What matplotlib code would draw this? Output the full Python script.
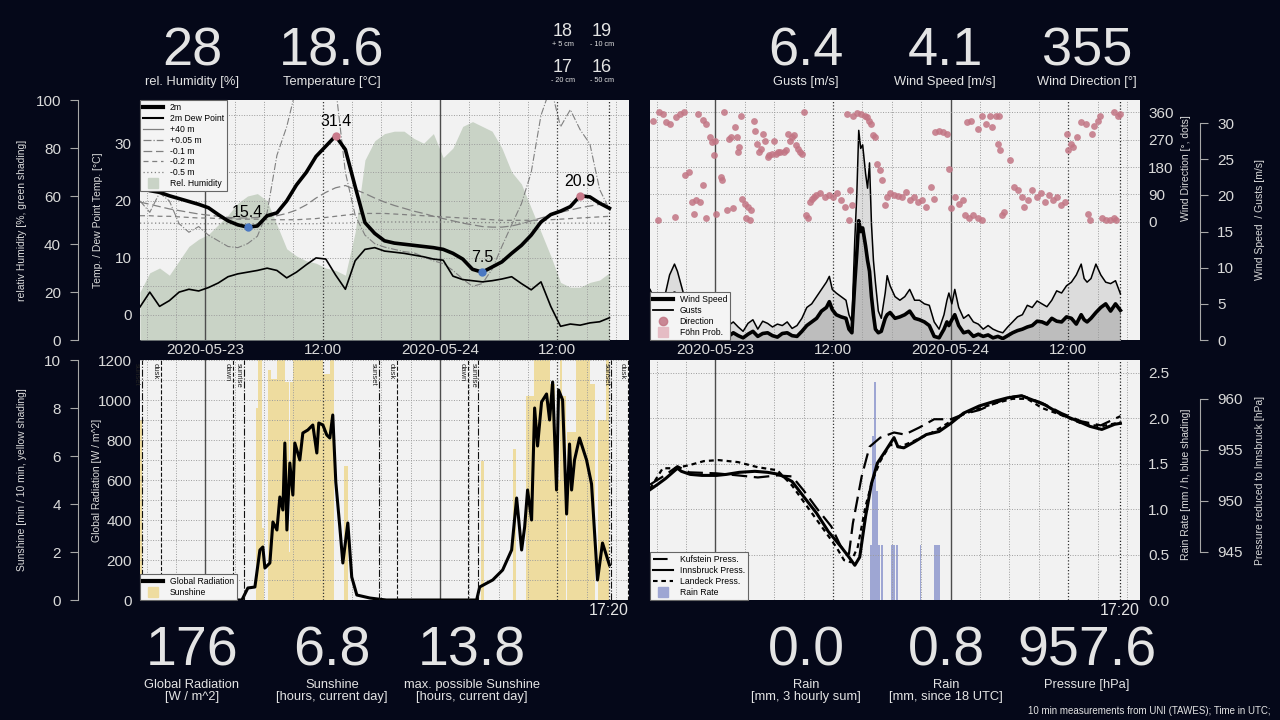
import numpy as np
import matplotlib
matplotlib.use("Agg")
from matplotlib import pyplot as plt
import matplotlib.dates as mdates
from matplotlib.lines import Line2D
from matplotlib.ticker import MultipleLocator

plt.rcParams['font.family'] = ['Liberation Sans', 'DejaVu Sans']

# ---------------- data: hours after 2020-05-22 17:20 UTC ----------------
hours = list(range(49))
temp_2m = [22.3, 21.8, 21.5, 20.9, 20.4, 19.9, 19.4, 18.8, 17.6, 16.5,
           15.8, 15.4, 15.6, 17.4, 17.9, 20.0, 22.8, 25.0, 27.8, 29.6,
           31.4, 29.0, 22.5, 16.2, 14.3, 13.0, 12.6, 12.4, 12.2, 12.0,
           11.8, 11.5, 10.8, 9.8, 8.0, 7.5, 8.4, 9.3, 10.8, 12.2,
           14.0, 16.3, 17.6, 18.2, 19.0, 20.9, 20.7, 19.6, 18.7]
dew_2m = [1.4, 4.0, 1.5, 2.5, 4.0, 4.5, 4.2, 4.8, 5.6, 6.7,
          7.2, 7.5, 7.8, 8.2, 7.8, 6.5, 7.5, 8.8, 10.0, 9.8,
          7.0, 4.5, 9.5, 11.5, 11.8, 11.2, 11.0, 10.8, 10.5, 10.2,
          9.8, 9.6, 6.8, 6.2, 6.0, 5.8, 6.0, 6.3, 6.7, 5.5,
          4.4, 5.8, 1.5, -2.0, -1.6, -1.8, -1.4, -1.2, -0.5]
rel_hum = [20, 28, 30, 27, 33, 39, 42, 44, 48, 52,
           57, 60, 61, 58, 48, 38, 35, 33, 32, 30,
           29, 27, 45, 75, 83, 86, 87, 87, 84, 82,
           86, 76, 80, 89, 91, 89, 87, 80, 70, 65,
           55, 45, 35, 24, 22, 22, 24, 25, 28]
t_p005 = [20.0, 18.0, 21.4, 20.0, 16.0, 14.5, 15.5, 14.0, 13.0, 12.0,
          11.8, 12.5, 13.8, 18.0, 28.0, 33.0, 40.0, 42.0, 42.0, 42.0,
          40.0, 25.0, 17.5, 14.0, 12.5, 11.9, 11.5, 11.1, 10.9, 10.2,
          9.5, 9.0, 7.8, 6.3, 5.0, 5.5, 8.0, 12.0, 15.8, 19.5,
          25.0, 35.0, 40.0, 33.0, 36.0, 32.5, 30.0, 22.0, 18.5]
t_m010 = [19.8, 19.4, 19.0, 18.6, 18.3, 18.0, 17.7, 17.5, 17.3, 17.1,
          17.0, 17.0, 17.1, 17.2, 17.4, 17.8, 18.4, 19.3, 20.5, 21.5,
          22.3, 22.7, 22.0, 21.3, 20.5, 19.8, 19.2, 18.7, 18.2, 17.8,
          17.3, 16.9, 16.5, 16.1, 15.8, 15.5, 15.4, 15.4, 15.6, 16.0,
          16.5, 17.0, 17.5, 18.0, 18.4, 18.8, 19.1, 19.4, 19.6]
t_m020 = [17.4, 17.4, 17.3, 17.3, 17.2, 17.1, 17.0, 17.0, 16.9, 16.9,
          16.8, 16.8, 16.8, 16.7, 16.7, 16.7, 16.7, 16.8, 16.9, 17.1,
          17.3, 17.5, 17.7, 17.8, 17.8, 17.8, 17.7, 17.6, 17.5, 17.4,
          17.3, 17.2, 17.1, 17.0, 16.9, 16.8, 16.7, 16.6, 16.6, 16.6,
          16.6, 16.6, 16.7, 16.8, 16.9, 17.0, 17.1, 17.2, 17.3]
t_m050 = [16.1, 16.1, 16.1, 16.1, 16.0, 16.0, 16.0, 16.0, 16.0, 16.0,
          16.0, 16.0, 16.0, 16.0, 16.0, 16.0, 16.0, 16.0, 16.0, 16.1,
          16.1, 16.1, 16.2, 16.2, 16.3, 16.3, 16.3, 16.3, 16.3, 16.3,
          16.3, 16.3, 16.3, 16.2, 16.2, 16.2, 16.2, 16.2, 16.2, 16.1,
          16.1, 16.1, 16.1, 16.1, 16.1, 16.1, 16.1, 16.1, 16.1]
ext_hours = [11, 20, 35, 45]
ext_vals = [15.4, 31.4, 7.5, 20.9]
ext_kind = ['min', 'max', 'min', 'max']

wind_hours = [0.0, 0.5, 1.0, 1.5, 2.0, 2.5, 2.8, 3.0, 3.5, 4.0,
              4.5, 5.0, 5.5, 6.0, 6.5, 7.0, 7.5, 8.0, 8.5, 9.0,
              9.5, 10.0, 10.5, 11.0, 11.5, 12.0, 12.5, 13.0, 13.5, 14.0,
              14.5, 15.0, 15.5, 16.0, 16.5, 17.0, 17.5, 18.0, 18.3, 18.6,
              19.0, 19.5, 20.0, 20.3, 20.6, 20.9, 21.1, 21.3, 21.5, 21.7,
              22.0, 22.2, 22.4, 22.6, 22.8, 23.0, 23.3, 23.6, 24.0, 24.2,
              24.5, 25.0, 25.5, 26.0, 26.5, 27.0, 27.5, 28.0, 28.5, 29.0,
              29.5, 30.0, 30.3, 30.5, 30.8, 31.1, 31.5, 32.0, 32.5, 33.0,
              33.5, 34.0, 34.5, 35.0, 35.5, 36.0, 36.5, 37.0, 37.5, 38.0,
              38.5, 39.0, 39.5, 40.0, 40.5, 41.0, 41.5, 42.0, 42.5, 43.0,
              43.5, 44.0, 44.3, 44.6, 45.0, 45.5, 46.0, 46.5, 47.0, 47.5, 48.0]
wind_speed = [3.0, 2.5, 2.0, 3.0, 5.0, 6.5, 6.0, 4.0, 2.5, 1.5,
              1.0, 0.8, 0.5, 1.0, 0.6, 0.8, 0.4, 0.5, 1.0, 0.6,
              0.3, 0.8, 1.2, 0.5, 0.9, 1.0, 0.6, 0.4, 0.9, 1.0,
              0.6, 0.5, 1.2, 2.0, 2.5, 3.0, 4.0, 4.5, 5.3, 4.2,
              3.5, 3.2, 3.0, 1.5, 1.0, 8.0, 12.0, 16.5, 15.0, 15.5,
              13.0, 11.0, 9.5, 6.0, 3.5, 1.5, 1.0, 1.2, 3.0, 3.5,
              3.8, 3.0, 3.2, 3.5, 4.0, 3.0, 2.8, 2.5, 2.0, 0.5,
              0.3, 1.5, 2.5, 2.0, 2.8, 3.5, 2.0, 1.0, 1.2, 0.5,
              0.8, 0.5, 0.7, 0.3, 0.5, 0.2, 0.6, 1.0, 1.3, 1.5,
              1.8, 2.0, 2.6, 2.5, 2.2, 3.0, 2.6, 2.5, 3.2, 3.0,
              2.2, 3.5, 2.8, 2.5, 3.0, 3.8, 4.5, 5.0, 4.0, 5.0, 4.1]
wind_gust = [7.0, 5.5, 4.0, 6.0, 9.0, 10.5, 9.5, 8.5, 6.0, 4.0,
             2.5, 2.0, 1.5, 2.5, 1.8, 2.0, 1.5, 2.0, 2.5, 1.8,
             1.2, 2.3, 2.8, 1.5, 2.6, 2.3, 1.8, 2.2, 2.0, 2.5,
             1.6, 2.0, 3.0, 4.5, 5.0, 6.0, 7.0, 8.0, 8.8, 7.0,
             6.5, 6.0, 5.5, 3.5, 2.5, 14.0, 20.0, 29.0, 26.5, 27.0,
             23.0, 21.0, 24.5, 16.0, 11.0, 8.0, 4.0, 3.0, 6.5, 8.9,
             7.5, 6.0, 5.5, 6.0, 7.0, 5.5, 5.5, 5.0, 4.8, 2.5,
             1.5, 3.5, 5.5, 6.5, 5.0, 7.0, 4.5, 3.0, 3.5, 2.5,
             2.2, 1.5, 2.0, 1.5, 1.2, 1.0, 1.8, 2.5, 3.2, 3.5,
             4.8, 4.5, 5.4, 5.0, 4.6, 5.5, 6.8, 6.5, 7.5, 8.0,
             9.0, 10.5, 8.5, 8.0, 8.5, 10.5, 9.0, 8.0, 7.8, 8.2, 6.4]

dir_hours = [0.33, 0.83, 0.96, 1.37, 1.66, 2.08, 2.58, 2.62, 3.04, 3.45,
             3.58, 4.0, 4.29, 4.49, 4.70, 4.91, 5.12, 5.41, 5.45, 5.74,
             5.74, 6.16, 6.37, 6.49, 6.66, 6.78, 7.2, 7.32, 7.53, 7.82,
             8.03, 8.24, 8.45, 8.66, 8.86, 8.99, 9.07, 9.28, 9.41, 9.70,
             9.82, 9.99, 10.24, 10.32, 10.65, 10.74, 10.94, 11.15, 11.36, 11.57,
             11.78, 11.99, 12.19, 12.40, 12.61, 12.82, 13.03, 13.23, 13.65, 13.86,
             14.07, 14.27, 14.48, 14.69, 14.90, 15.11, 15.31, 15.52, 15.73, 15.94,
             16.15, 16.35, 16.56, 16.77, 16.98, 17.39, 17.81, 18.23, 18.64, 19.06,
             19.48, 19.89, 20.10, 20.31, 20.39, 20.64, 20.72, 21.14, 21.56, 21.97,
             22.18, 22.39, 22.60, 22.80, 23.01, 23.14, 23.43, 23.64, 23.93, 24.18,
             24.47, 24.89, 25.30, 25.72, 26.13, 26.55, 26.97, 27.38, 27.80, 28.21,
             28.63, 28.96, 29.05, 29.46, 29.88, 30.30, 30.50, 30.71, 31.13, 31.54,
             31.96, 32.17, 32.38, 32.58, 32.79, 33.0, 33.42, 33.42, 33.83, 33.83,
             34.25, 34.67, 34.87, 35.29, 35.50, 35.62, 35.71, 35.91, 36.12, 36.75,
             37.16, 37.58, 37.99, 38.20, 38.62, 39.03, 39.45, 39.87, 40.28, 40.70,
             41.12, 41.53, 41.95, 42.36, 42.57, 42.70, 42.99, 43.20, 43.61, 44.03,
             44.44, 44.65, 44.86, 45.07, 45.28, 45.69, 45.90, 46.11, 46.53, 46.94,
             47.36, 47.36, 47.57, 47.77, 48.0]
dir_deg = [333, 5, 360, 355, 327, 322, 16, 344, 355, 360,
           153, 164, 65, 27, 71, 355, 65, 120, 335, 322,
           11, 278, 262, 218, 267, 27, 147, 136, 360, 38,
           273, 278, 44, 311, 278, 229, 246, 349, 76, 60,
           11, 49, 5, 38, 333, 300, 256, 229, 240, 289,
           267, 213, 218, 224, 267, 224, 229, 229, 229, 235,
           289, 267, 278, 284, 251, 240, 229, 224, 360, 22,
           11, 65, 76, 82, 87, 93, 82, 87, 82, 93,
           71, 49, 355, 5, 104, 55, 349, 357, 355, 349,
           344, 333, 322, 284, 278, 191, 169, 136, 55, 82,
           93, 87, 84, 82, 98, 71, 82, 65, 71, 49,
           115, 76, 295, 300, 295, 289, 175, 44, 82, 60,
           71, 22, 327, 11, 333, 22, 306, 11, 349, 5,
           322, 349, 311, 349, 256, 349, 235, 22, 33, 202,
           115, 104, 82, 49, 71, 104, 82, 93, 65, 87,
           71, 82, 55, 65, 289, 235, 256, 246, 278, 327,
           322, 27, 5, 289, 316, 333, 349, 11, 5, 5,
           11, 360, 5, 349, 355]

rad_hours = [0.0, 0.5, 1.0, 1.5,
             10.42, 11.03, 11.75, 12.26, 12.56, 12.77, 13.28, 13.59, 14.0, 14.30,
             14.61, 14.81, 15.02, 15.32, 15.63, 15.83, 16.34, 16.65, 17.16, 17.67,
             18.08, 18.28, 18.7, 19.10, 19.41, 19.71, 20.02, 20.43, 20.74, 21.25,
             21.65, 22.17, 23.5, 24.3, 25.2,
             34.42, 34.73, 36.06, 37.08, 38.0, 38.51, 39.02, 39.33, 39.63, 40.04,
             40.35, 40.65, 41.06, 41.57, 41.88, 42.19, 42.59, 42.80, 43.21, 43.62,
             43.92, 44.13, 44.43, 44.94, 45.66, 46.17, 46.78, 47.29, 48.0]
rad_vals = [60, 30, 10, 0,
            0, 60, 65, 250, 265, 160, 185, 390, 350, 515,
            450, 785, 350, 685, 525, 785, 700, 835, 850, 875,
            735, 885, 875, 825, 810, 925, 590, 365, 185, 385,
            115, 25, 10, 5, 0,
            0, 65, 100, 150, 250, 510, 250, 365, 550, 400,
            960, 770, 990, 1030, 900, 1090, 550, 1050, 1000, 430,
            780, 550, 700, 810, 700, 580, 100, 285, 175]

sun_start = [0.0, 11.85, 12.05, 12.5, 13.05, 13.4, 14.0, 14.8, 15.2, 15.35,
             15.6, 18.7, 19.4, 20.9, 34.9, 38.1, 39.5, 40.3, 41.9, 42.4,
             42.9, 43.2, 43.7, 44.6, 46.0, 46.8, 47.6]
sun_end = [0.2, 12.05, 12.5, 12.65, 13.4, 14.0, 14.8, 15.2, 15.35, 15.6,
           18.7, 19.4, 19.8, 21.3, 35.2, 38.4, 40.3, 41.9, 42.4, 42.9,
           43.2, 43.6, 44.6, 46.0, 46.5, 47.6, 48.0]
sun_min = [7.5, 8, 10, 3, 9.6, 9.2, 10, 9.1, 2, 9.1,
           10, 9.4, 10, 5.6, 5.8, 6.3, 8.5, 10, 9, 5,
           10, 8.5, 7, 10, 9, 7.5, 10]

sun_event_names = ['sunset', 'dusk', 'dawn', 'sunrise', 'sunset', 'dusk',
                   'dawn', 'sunrise', 'sunset', 'dusk']
sun_event_hours = [0.2, 2.15, 9.5, 10.6, 24.4, 26.25, 33.5, 34.6, 48.2, 49.85]

ibk_hours = [0.0, 0.75, 1.6, 2.8, 3.2, 4.1, 5.3, 6.8, 7.8, 9.1,
             10.7, 12.0, 13.2, 14.5, 15.7, 17.0, 18.2, 19.5, 20.3, 20.9,
             21.4, 22.0, 22.6, 23.2, 24.1, 24.9, 25.3, 25.9, 27.0, 28.2,
             29.5, 30.7, 32.0, 33.6, 35.3, 36.5, 37.9, 39.0, 40.3, 41.9,
             43.2, 44.9, 46.1, 47.4, 48.0]
ibk_press = [951.1, 951.6, 952.2, 953.2, 952.9, 952.6, 952.5, 952.5, 952.6, 952.8,
             952.9, 952.8, 952.6, 951.9, 950.4, 948.8, 947.0, 945.5, 944.5, 943.7,
             944.5, 948.5, 951.7, 953.7, 955.0, 956.2, 955.3, 955.2, 955.8, 956.5,
             956.8, 957.6, 958.6, 959.3, 959.8, 960.1, 960.3, 959.9, 959.4, 958.5,
             958.0, 957.3, 957.0, 957.5, 957.6]
kuf_hours = [0.0, 1.5, 2.8, 4.0, 6.8, 9.0, 11.0, 13.0, 14.5, 15.7,
             17.0, 18.5, 19.5, 20.3, 20.7, 21.6, 22.4, 23.5, 24.9, 26.0,
             27.5, 29.0, 30.7, 32.0, 33.6, 35.3, 37.0, 38.0, 40.0, 42.0,
             44.0, 46.0, 48.0]
kuf_press = [951.6, 952.5, 953.4, 952.8, 952.7, 952.5, 952.3, 952.5, 952.4, 951.0,
             949.3, 947.5, 945.5, 944.8, 947.8, 952.4, 955.3, 956.2, 956.7, 956.5,
             957.2, 958.0, 958.0, 958.5, 958.9, 959.6, 960.2, 960.3, 959.6, 958.6,
             957.8, 957.4, 958.3]
ldk_hours = [0.0, 1.3, 2.5, 4.0, 5.5, 7.0, 9.0, 11.0, 13.0, 14.5,
             16.0, 17.5, 19.0, 19.8, 20.5, 21.2, 22.0, 22.7, 23.5, 24.5,
             25.5, 27.0, 29.0, 30.7, 32.0, 33.5, 35.0, 37.0, 38.5, 40.0,
             42.0, 44.0, 46.0, 48.0]
ldk_press = [951.2, 953.2, 953.2, 953.5, 953.9, 954.0, 953.8, 953.3, 953.0, 951.5,
             949.5, 947.5, 945.5, 944.2, 944.0, 945.5, 949.5, 952.0, 953.9, 955.5,
             955.3, 955.9, 956.8, 957.8, 958.5, 959.0, 959.5, 960.0, 960.0, 959.1,
             958.4, 957.6, 957.3, 957.7]

rain_hours = [22.6, 22.8, 23.0, 23.2, 23.4, 23.7, 24.7, 24.9, 25.2, 27.6, 29.1, 29.3, 29.5]
rain_rate = [0.6, 1.8, 2.4, 1.2, 0.6, 0.6, 0.6, 0.6, 0.6, 0.6, 0.6, 0.6, 0.6]

top_values = ['28', '18.6', '6.4', '4.1', '355']
top_labels = ['rel. Humidity [%]', 'Temperature [°C]', 'Gusts [m/s]',
              'Wind Speed [m/s]', 'Wind Direction [°]']
soil_values = ['18', '19', '17', '16']
soil_labels = ['+ 5 cm', '- 10 cm', '- 20 cm', '- 50 cm']
bottom_values = ['176', '6.8', '13.8', '0.0', '0.8', '957.6']
bottom_labels = ['Global Radiation\n[W / m^2]', 'Sunshine\n[hours, current day]',
                 'max. possible Sunshine\n[hours, current day]', 'Rain\n[mm, 3 hourly sum]',
                 'Rain\n[mm, since 18 UTC]', 'Pressure [hPa]']
day_labels = ['2020-05-23', '12:00', '2020-05-24', '12:00']
last_obs = '17:20'

# ---------------- style ----------------
BG = '#050819'
FG = '#dadada'
PANEL = '#f2f2f2'
GRIDC = '#9c9c9c'
SPINE = '#a8a8a8'
HUM = '#c9d3c6'
SUN = '#eedc9f'
RAIN = '#9ea6d3'
DIRC = '#c27584'
DOT = (0, (1, 1.6))
NARROW = ['Liberation Sans Narrow', 'Liberation Sans', 'DejaVu Sans']

start = mdates.date2num(np.datetime64('2020-05-22T17:20'))
day_ticks = mdates.date2num(np.array(['2020-05-23T00:00', '2020-05-23T12:00',
                                      '2020-05-24T00:00', '2020-05-24T12:00'],
                                     dtype='datetime64[m]'))


def when(h):
    return start + np.asarray(h, dtype=float) / 24.0


fig = plt.figure(figsize=(12.8, 7.2), dpi=100, facecolor=BG)


def px_axes(l, t, r, b):
    return fig.add_axes([l / 1280, 1 - b / 720, (r - l) / 1280, (b - t) / 720])


def time_axis(ax, labels):
    ax.xaxis_date()
    ax.set_xlim(when(0), when(50))
    ax.set_xticks(day_ticks)
    ax.set_xticklabels(day_labels if labels else [''] * 4)
    ax.xaxis.set_minor_locator(mdates.HourLocator(byhour=range(0, 24, 3)))
    ax.grid(True, which='minor', axis='x', color=GRIDC, lw=0.7, ls=DOT)
    ax.tick_params(axis='x', which='both', length=0, labelcolor=FG, labelsize=11, pad=2)
    for i, d in enumerate(day_ticks):
        if i % 2 == 0:
            ax.axvline(d, color='#4d4d4d', lw=1.0, zorder=1.8)
        else:
            ax.axvline(d, color='#333333', lw=0.9, ls=DOT, zorder=1.8)
    ax.axvline(when(48), color='#222222', lw=0.9, ls=DOT, zorder=1.8)


def hide_spines(ax, keep=None):
    for name, sp in ax.spines.items():
        sp.set_visible(name == keep)


def outer_axis(ax, side, ylim, ticks, label, coords):
    ax.set_ylim(*ylim)
    if side == 'left':
        ax.yaxis.tick_left()
    else:
        ax.yaxis.tick_right()
    ax.yaxis.set_label_position(side)
    ax.set_yticks(ticks)
    hide_spines(ax, side)
    sp = ax.spines[side]
    sp.set_position(('outward', 44.6 if side == 'left' else 43.2))
    sp.set_color(SPINE)
    sp.set_linewidth(0.8)
    sp.set_bounds(ticks[0], ticks[-1])
    ax.tick_params(axis='y', direction='out', length=5.8, width=0.8, color=SPINE,
                   labelcolor=FG, labelsize=11, pad=6.5)
    ax.set_ylabel(label, color=FG, fontsize=7.5)
    ax.yaxis.set_label_coords(*coords)


def inner_axis(ax, side, ylim, ticks, ticklabels, label, coords):
    ax.set_ylim(*ylim)
    if side == 'left':
        ax.yaxis.tick_left()
    else:
        ax.yaxis.tick_right()
    ax.yaxis.set_label_position(side)
    ax.set_yticks(ticks)
    ax.set_yticklabels(ticklabels)
    ax.tick_params(axis='y', which='both', length=0, labelcolor=FG, labelsize=11, pad=6)
    ax.set_ylabel(label, color=FG, fontsize=7.5)
    ax.yaxis.set_label_coords(*coords)


def small_legend(ax, handles, loc):
    leg = ax.legend(handles=handles, loc=loc, borderaxespad=0, fancybox=False,
                    framealpha=1, facecolor='#f4f4f4', edgecolor='#666666',
                    prop={'family': NARROW, 'size': 6.2}, handlelength=2.3,
                    labelspacing=0.22, borderpad=0.35, handletextpad=0.8)
    leg.get_frame().set_linewidth(0.8)
    return leg


# ---------------- top left: temperature / humidity ----------------
ax_t = px_axes(140, 100, 629, 340)
ax_h = ax_t.twinx()
ax_t.set_zorder(ax_h.get_zorder() + 1)
ax_t.patch.set_visible(False)
ax_h.patch.set_visible(True)
ax_h.patch.set_facecolor(PANEL)

ax_h.fill_between(when(hours), rel_hum, 0, color=HUM, lw=0)
outer_axis(ax_h, 'left', (0, 100), [0, 20, 40, 60, 80, 100],
           'relativ Humidity [%, green shading]', (-0.2311, 0.5))

grey = '#808080'
ax_t.plot(when(hours), t_p005, color=grey, lw=0.8, ls='-.')
ax_t.plot(when(hours), t_m010, color=grey, lw=0.9, ls=(0, (7, 3)))
ax_t.plot(when(hours), t_m020, color=grey, lw=0.9, ls=(0, (4, 3)))
ax_t.plot(when(hours), t_m050, color=grey, lw=0.9, ls=(0, (1, 2)))
ax_t.plot(when(hours), dew_2m, color='k', lw=1.2)
ax_t.plot(when(hours), temp_2m, color='k', lw=2.6)
for h, v, k in zip(ext_hours, ext_vals, ext_kind):
    c = '#4a78c2' if k == 'min' else '#c97a8b'
    ax_t.plot(when(h), v, 'o', color=c, ms=5, zorder=5)
    ax_t.annotate(f'{v:.1f}', (when(h), v), xytext=(0, 5), textcoords='offset points',
                  ha='center', va='bottom', fontsize=11.5, color='k', zorder=6)
inner_axis(ax_t, 'left', (-4.4, 37.7), [0, 10, 20, 30], ['0', '10', '20', '30'],
           'Temp. / Dew Point Temp. [°C]', (-0.0757, 0.5))
ax_t.yaxis.set_minor_locator(MultipleLocator(5))
ax_t.grid(True, which='both', axis='y', color=GRIDC, lw=0.7, ls=DOT)
hide_spines(ax_t)
time_axis(ax_t, True)

small_legend(ax_t, [
    Line2D([], [], color='k', lw=3, label='2m'),
    Line2D([], [], color='k', lw=1.5, label='2m Dew Point'),
    Line2D([], [], color=grey, lw=0.9, label='+40 m'),
    Line2D([], [], color=grey, lw=0.9, ls='-.', label='+0.05 m'),
    Line2D([], [], color=grey, lw=0.9, ls=(0, (7, 3)), label='-0.1 m'),
    Line2D([], [], color=grey, lw=0.9, ls=(0, (4, 3)), label='-0.2 m'),
    Line2D([], [], color=grey, lw=0.9, ls=(0, (1, 2)), label='-0.5 m'),
    Line2D([], [], color=HUM, marker='s', ls='none', ms=7, label='Rel. Humidity'),
], 'upper left')

# ---------------- top right: wind ----------------
ax_w = px_axes(650, 100, 1140, 340)
ax_d = ax_w.twinx()
ax_w.set_facecolor(PANEL)
ax_w.fill_between(when(wind_hours), wind_gust, 0, color='#dcdcdc', lw=0)
ax_w.fill_between(when(wind_hours), wind_speed, 0, color='#bdbdbd', lw=0)
ax_w.plot(when(wind_hours), wind_gust, color='k', lw=1.1)
ax_w.plot(when(wind_hours), wind_speed, color='k', lw=2.6)
outer_axis(ax_w, 'right', (0, 33.2), [0, 5, 10, 15, 20, 25, 30],
           'Wind Speed  / Gusts [m/s]', (1.2347, 0.5))
time_axis(ax_w, True)

ax_d.scatter(when(dir_hours), dir_deg, s=24, color=DIRC, alpha=0.85, lw=0, zorder=3)
inner_axis(ax_d, 'right', (-389, 400.5), [0, 90, 180, 270, 360],
           ['0', '90', '180', '270', '360'], 'Wind Direction [°, dots]', (1.0837, 0.717))
ax_d.grid(True, which='major', axis='y', color=GRIDC, lw=0.7, ls=DOT)
hide_spines(ax_d)

small_legend(ax_d, [
    Line2D([], [], color='k', lw=3, label='Wind Speed'),
    Line2D([], [], color='k', lw=1.3, label='Gusts'),
    Line2D([], [], color=DIRC, marker='o', ls='none', ms=6, alpha=0.85, label='Direction'),
    Line2D([], [], color='#e5bcc4', marker='s', ls='none', ms=7, label='Föhn Prob.'),
], 'lower left')

# ---------------- bottom left: radiation / sunshine ----------------
ax_r = px_axes(140, 360, 629, 600)
ax_s = ax_r.twinx()
ax_r.set_zorder(ax_s.get_zorder() + 1)
ax_r.patch.set_visible(False)
ax_s.patch.set_visible(True)
ax_s.patch.set_facecolor(PANEL)

sun_w = (np.array(sun_end) - np.array(sun_start)) / 24.0
ax_s.bar(when(sun_start), sun_min, width=sun_w, align='edge', color=SUN, lw=0)
outer_axis(ax_s, 'left', (0, 10), [0, 2, 4, 6, 8, 10],
           'Sunshine [min / 10 min, yellow shading]', (-0.2311, 0.5))

ax_r.plot(when(rad_hours), rad_vals, color='k', lw=2.2)
inner_axis(ax_r, 'left', (0, 1200), [0, 200, 400, 600, 800, 1000, 1200],
           ['0', '200', '400', '600', '800', '1000', '1200'],
           'Global Radiation [W / m^2]', (-0.0777, 0.5))
ax_r.yaxis.set_minor_locator(MultipleLocator(100))
ax_r.grid(True, which='both', axis='y', color=GRIDC, lw=0.7, ls=DOT)
hide_spines(ax_r)
time_axis(ax_r, False)

event_style = {'sunset': '-.', 'sunrise': '-.', 'dusk': '--', 'dawn': '--'}
for name, h in zip(sun_event_names, sun_event_hours):
    ax_r.axvline(when(h), color='#111111', lw=0.8, ls=event_style[name], zorder=2.5)
    ax_r.annotate(name, (when(h), 1200), xytext=(-1.5, -2), textcoords='offset points',
                  rotation=270, ha='right', va='top', fontsize=5.5, color='#222222',
                  annotation_clip=False)

small_legend(ax_r, [
    Line2D([], [], color='k', lw=3, label='Global Radiation'),
    Line2D([], [], color=SUN, marker='s', ls='none', ms=7, label='Sunshine'),
], 'lower left')

# ---------------- bottom right: pressure / rain ----------------
ax_q = px_axes(650, 360, 1140, 600)
ax_p = ax_q.twinx()
ax_q.set_facecolor(PANEL)
ax_q.bar(when(rain_hours), rain_rate, width=0.2 / 24, color=RAIN, lw=0)
inner_axis(ax_q, 'right', (0, 2.64), [0, 0.5, 1.0, 1.5, 2.0, 2.5],
           ['0.0', '0.5', '1.0', '1.5', '2.0', '2.5'],
           'Rain Rate [mm / h, blue shading]', (1.0837, 0.483))
ax_q.grid(True, which='major', axis='y', color=GRIDC, lw=0.7, ls=DOT)
hide_spines(ax_q)
time_axis(ax_q, False)

ax_p.plot(when(kuf_hours), kuf_press, color='k', lw=1.6, ls=(0, (7, 3)))
ax_p.plot(when(ibk_hours), ibk_press, color='k', lw=2.2)
ax_p.plot(when(ldk_hours), ldk_press, color='k', lw=1.6, ls=(0, (2.2, 1.8)))
outer_axis(ax_p, 'right', (940.3, 963.8), [945, 950, 955, 960],
           'Pressure reduced to Innsbruck [hPa]', (1.2347, 0.5))

small_legend(ax_p, [
    Line2D([], [], color='k', lw=1.5, ls=(0, (7, 3)), label='Kufstein Press.'),
    Line2D([], [], color='k', lw=1.5, label='Innsbruck Press.'),
    Line2D([], [], color='k', lw=1.5, ls=(0, (2.2, 1.8)), label='Landeck Press.'),
    Line2D([], [], color=RAIN, marker='s', ls='none', ms=7, label='Rain Rate'),
], 'lower left')

# ---------------- header / footer numbers ----------------
def ftext(x, y, s, **kw):
    fig.text(x / 1280, 1 - y / 720, s, color=kw.pop('color', '#e4e4e4'), **kw)


for x, v, lab in zip([192, 332, 806, 945, 1087], top_values, top_labels):
    ftext(x, 65, v, ha='center', va='baseline', fontsize=39)
    ftext(x, 85, lab, ha='center', va='baseline', fontsize=9.3)

for x, y, v, lab in zip([563, 602, 563, 602], [36, 36, 72, 72], soil_values, soil_labels):
    ftext(x, y, v, ha='center', va='baseline', fontsize=13)
    ftext(x, y + 10, lab, ha='center', va='baseline', fontsize=5.2)

for x, v, lab in zip([192, 332, 472, 806, 946, 1087], bottom_values, bottom_labels):
    ftext(x, 666, v, ha='center', va='baseline', fontsize=40)
    ftext(x, 679, lab, ha='center', va='top', fontsize=9.3, linespacing=1.05)

ftext(629, 603, last_obs, ha='right', va='top', fontsize=11.5)
ftext(1140, 603, last_obs, ha='right', va='top', fontsize=11.5)
ftext(1270, 714, '10 min measurements from UNI (TAWES); Time in UTC;',
      ha='right', va='baseline', fontsize=7)

fig.savefig('out.png', dpi=100, facecolor=BG)
